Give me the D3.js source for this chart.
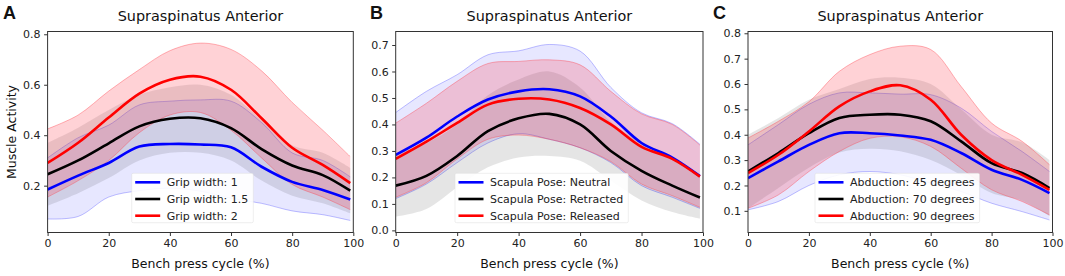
<!DOCTYPE html>
<html>
<head>
<meta charset="utf-8">
<script src="https://cdn.jsdelivr.net/npm/d3@7"></script>
<style>
  body { margin: 0; background: #fff; }
  svg { display: block; font-family: "DejaVu Sans", sans-serif; }
</style>
</head>
<body>
<div id="chart"></div>
<script>
// x samples along the bench press cycle (%)
const cyclePts = [0, 10, 20, 30, 40, 50, 60, 70, 80, 90, 99];

// Panel A - grip width
const gripLabels = ["Grip width: 1", "Grip width: 1.5", "Grip width: 2"];
const grip1Mean = [0.185, 0.24, 0.29, 0.355, 0.365, 0.363, 0.352, 0.275, 0.215, 0.183, 0.145];
const grip1Lo   = [0.068, 0.078, 0.155, 0.18, 0.19, 0.178, 0.15, 0.13, 0.1, 0.085, 0.062];
const grip1Hi   = [0.31, 0.39, 0.44, 0.52, 0.535, 0.54, 0.535, 0.45, 0.33, 0.30, 0.235];
const grip15Mean = [0.245, 0.30, 0.368, 0.435, 0.465, 0.467, 0.428, 0.345, 0.28, 0.242, 0.18];
const grip15Lo   = [0.12, 0.17, 0.23, 0.30, 0.33, 0.33, 0.30, 0.22, 0.16, 0.13, 0.09];
const grip15Hi   = [0.37, 0.43, 0.50, 0.56, 0.59, 0.60, 0.56, 0.46, 0.36, 0.33, 0.27];
const grip2Mean = [0.29, 0.37, 0.47, 0.565, 0.62, 0.632, 0.58, 0.467, 0.35, 0.282, 0.21];
const grip2Lo   = [0.155, 0.22, 0.30, 0.41, 0.48, 0.49, 0.42, 0.31, 0.205, 0.155, 0.105];
const grip2Hi   = [0.425, 0.48, 0.575, 0.66, 0.735, 0.765, 0.74, 0.655, 0.53, 0.42, 0.315];

// Panel B - scapula pose
const poseLabels = ["Scapula Pose: Neutral", "Scapula Pose: Retracted", "Scapula Pose: Released"];
const neutralMean = [0.285, 0.35, 0.43, 0.494, 0.525, 0.533, 0.506, 0.43, 0.33, 0.275, 0.205];
const neutralLo   = [0.12, 0.175, 0.256, 0.33, 0.365, 0.344, 0.312, 0.256, 0.169, 0.125, 0.083];
const neutralHi   = [0.445, 0.525, 0.588, 0.663, 0.678, 0.702, 0.677, 0.54, 0.444, 0.403, 0.325];
const retractedMean = [0.169, 0.206, 0.281, 0.375, 0.423, 0.44, 0.40, 0.30, 0.225, 0.169, 0.124];
const retractedLo   = [0.052, 0.081, 0.163, 0.238, 0.275, 0.281, 0.263, 0.188, 0.113, 0.069, 0.044];
const retractedHi   = [0.29, 0.33, 0.40, 0.51, 0.57, 0.60, 0.54, 0.41, 0.33, 0.27, 0.20];
const releasedMean = [0.27, 0.335, 0.406, 0.475, 0.497, 0.494, 0.462, 0.40, 0.315, 0.27, 0.203];
const releasedLo   = [0.125, 0.18, 0.27, 0.344, 0.36, 0.344, 0.312, 0.26, 0.175, 0.131, 0.087];
const releasedHi   = [0.405, 0.48, 0.563, 0.63, 0.638, 0.644, 0.625, 0.525, 0.44, 0.40, 0.322];

// Panel C - abduction
const abdLabels = ["Abduction: 45 degrees", "Abduction: 70 degrees", "Abduction: 90 degrees"];
const abd45Mean = [0.229, 0.295, 0.36, 0.406, 0.406, 0.397, 0.38, 0.328, 0.262, 0.222, 0.17];
const abd45Lo   = [0.104, 0.137, 0.20, 0.242, 0.255, 0.242, 0.209, 0.176, 0.13, 0.097, 0.064];
const abd45Hi   = [0.36, 0.44, 0.52, 0.565, 0.565, 0.56, 0.558, 0.505, 0.413, 0.334, 0.255];
const abd70Mean = [0.255, 0.328, 0.406, 0.466, 0.479, 0.479, 0.453, 0.374, 0.288, 0.249, 0.19];
const abd70Lo   = [0.11, 0.19, 0.27, 0.33, 0.345, 0.335, 0.30, 0.24, 0.17, 0.14, 0.08];
const abd70Hi   = [0.40, 0.466, 0.538, 0.58, 0.62, 0.625, 0.60, 0.50, 0.40, 0.37, 0.30];
const abd90Mean = [0.249, 0.321, 0.413, 0.512, 0.571, 0.595, 0.538, 0.40, 0.30, 0.242, 0.183];
const abd90Lo   = [0.11, 0.163, 0.255, 0.334, 0.386, 0.392, 0.354, 0.268, 0.183, 0.137, 0.084];
const abd90Hi   = [0.387, 0.453, 0.53, 0.65, 0.716, 0.749, 0.736, 0.59, 0.446, 0.374, 0.282];

const xTicks = [0, 20, 40, 60, 80, 100];
const yTicksA = [0.2, 0.4, 0.6, 0.8];
const yTicksB = [0.0, 0.1, 0.2, 0.3, 0.4, 0.5, 0.6, 0.7];
const yTicksC = [0.1, 0.2, 0.3, 0.4, 0.5, 0.6, 0.7, 0.8];

const seriesColors = ["#0000ff", "#000000", "#ff0000"];
const bandFills = ["rgba(70,70,255,0.13)", "rgba(0,0,0,0.10)", "rgba(255,50,70,0.22)"];
const bandEdges = ["rgba(60,60,255,0.32)", "rgba(0,0,0,0.0)", "rgba(255,60,70,0.38)"];

const W = 1065, H = 276;
const svg = d3.select("#chart").append("svg").attr("width", W).attr("height", H);
svg.append("rect").attr("width", W).attr("height", H).attr("fill", "#fff");

const panels = [
    { letter: "A", lx: 3, left: 47.6, right: 353.3, yDom: [0.0144, 0.811], yTicks: yTicksA, showYLabel: true,
      labels: gripLabels, legendLeft: 131.7,
      series: [[grip1Mean, grip1Lo, grip1Hi], [grip15Mean, grip15Lo, grip15Hi], [grip2Mean, grip2Lo, grip2Hi]] },
    { letter: "B", lx: 370, left: 395.7, right: 703, yDom: [-0.008, 0.751], yTicks: yTicksB, showYLabel: false,
      labels: poseLabels, legendLeft: 455,
      series: [[neutralMean, neutralLo, neutralHi], [retractedMean, retractedLo, retractedHi], [releasedMean, releasedLo, releasedHi]] },
    { letter: "C", lx: 713, left: 748, right: 1052.5, yDom: [0.0146, 0.807], yTicks: yTicksC, showYLabel: false,
      labels: abdLabels, legendLeft: 815,
      series: [[abd45Mean, abd45Lo, abd45Hi], [abd70Mean, abd70Lo, abd70Hi], [abd90Mean, abd90Lo, abd90Hi]] }
];

const plotTop = 31.5, plotBottom = 232.5;

panels.forEach(p => drawPanel(p));

function drawPanel(p) {
    const x = d3.scaleLinear().domain([0, 100]).range([p.left, p.right]);
    const y = d3.scaleLinear().domain(p.yDom).range([plotBottom, plotTop]);

    const clipId = "clip" + p.letter;
    svg.append("clipPath").attr("id", clipId)
        .append("rect").attr("x", p.left).attr("y", plotTop)
        .attr("width", p.right - p.left).attr("height", plotBottom - plotTop);

    const plot = svg.append("g").attr("clip-path", `url(#${clipId})`);

    const curve = d3.curveCatmullRom.alpha(0.5);
    const area = d3.area().curve(curve)
        .x((d, i) => x(cyclePts[i])).y0(d => y(d[0])).y1(d => y(d[1]));
    const line = d3.line().curve(curve)
        .x((d, i) => x(cyclePts[i])).y(d => y(d));

    // bands first
    p.series.forEach((s, k) => {
        const band = s[1].map((lo, i) => [lo, s[2][i]]);
        plot.append("path").attr("d", area(band))
            .attr("fill", bandFills[k]).attr("stroke", "none");
        plot.append("path").attr("d", line(s[1]))
            .attr("fill", "none").attr("stroke", bandEdges[k]).attr("stroke-width", 1);
        plot.append("path").attr("d", line(s[2]))
            .attr("fill", "none").attr("stroke", bandEdges[k]).attr("stroke-width", 1);
    });
    // mean lines
    p.series.forEach((s, k) => {
        plot.append("path").attr("d", line(s[0]))
            .attr("fill", "none").attr("stroke", seriesColors[k])
            .attr("stroke-width", 2.6).attr("stroke-linejoin", "round");
    });

    // axes
    const xAxis = svg.append("g").attr("transform", `translate(0,${plotBottom})`)
        .call(d3.axisBottom(x).tickValues(xTicks).tickSize(3.5).tickPadding(3));
    const yAxis = svg.append("g").attr("transform", `translate(${p.left},0)`)
        .call(d3.axisLeft(y).tickValues(p.yTicks).tickSize(3.5).tickPadding(3.5).tickFormat(d3.format(".1f")));
    [xAxis, yAxis].forEach(g => {
        g.select(".domain").remove();
        g.selectAll(".tick line").attr("stroke", "#333");
        g.selectAll(".tick text").attr("fill", "#222").style("font-size", "11px")
            .style("font-family", "DejaVu Sans");
    });

    // frame
    svg.append("rect").attr("x", p.left).attr("y", plotTop)
        .attr("width", p.right - p.left).attr("height", plotBottom - plotTop)
        .attr("fill", "none").attr("stroke", "#333").attr("stroke-width", 1);

    // title and labels
    const cx = (p.left + p.right) / 2;
    svg.append("text").attr("x", cx).attr("y", 20.5).attr("text-anchor", "middle")
        .style("font-size", "14.4px").attr("fill", "#111").text("Supraspinatus Anterior");
    svg.append("text").attr("x", p.lx).attr("y", 18.5)
        .style("font-size", "18px").style("font-weight", "bold").style("font-family", "Liberation Sans, Arial, sans-serif")
        .attr("fill", "#111").text(p.letter);
    svg.append("text").attr("x", cx).attr("y", 268).attr("text-anchor", "middle")
        .style("font-size", "12.5px").attr("fill", "#111").text("Bench press cycle (%)");
    if (p.showYLabel) {
        svg.append("text").attr("transform", `translate(16,${(plotTop + plotBottom) / 2}) rotate(-90)`)
            .attr("text-anchor", "middle").style("font-size", "12.5px").attr("fill", "#111")
            .text("Muscle Activity");
    }

    // legend
    const legend = svg.append("g").attr("transform", `translate(${p.legendLeft},173.3)`);
    const box = legend.append("rect").attr("height", 49.4).attr("fill", "rgba(255,255,255,0.9)")
        .attr("stroke", "rgba(220,220,220,0.6)").attr("stroke-width", 0.8).attr("rx", 1.5);
    let maxW = 0;
    p.labels.forEach((lab, k) => {
        const ry = 9 + k * 16.7;
        legend.append("line").attr("x1", 3.5).attr("x2", 28.5).attr("y1", ry).attr("y2", ry)
            .attr("stroke", seriesColors[k]).attr("stroke-width", 2.6);
        const t = legend.append("text").attr("x", 35).attr("y", ry + 4)
            .style("font-size", "11px").attr("fill", "#222").text(lab);
        maxW = Math.max(maxW, t.node().getComputedTextLength());
    });
    box.attr("width", 35 + maxW + 5);
}
</script>
</body>
</html>
